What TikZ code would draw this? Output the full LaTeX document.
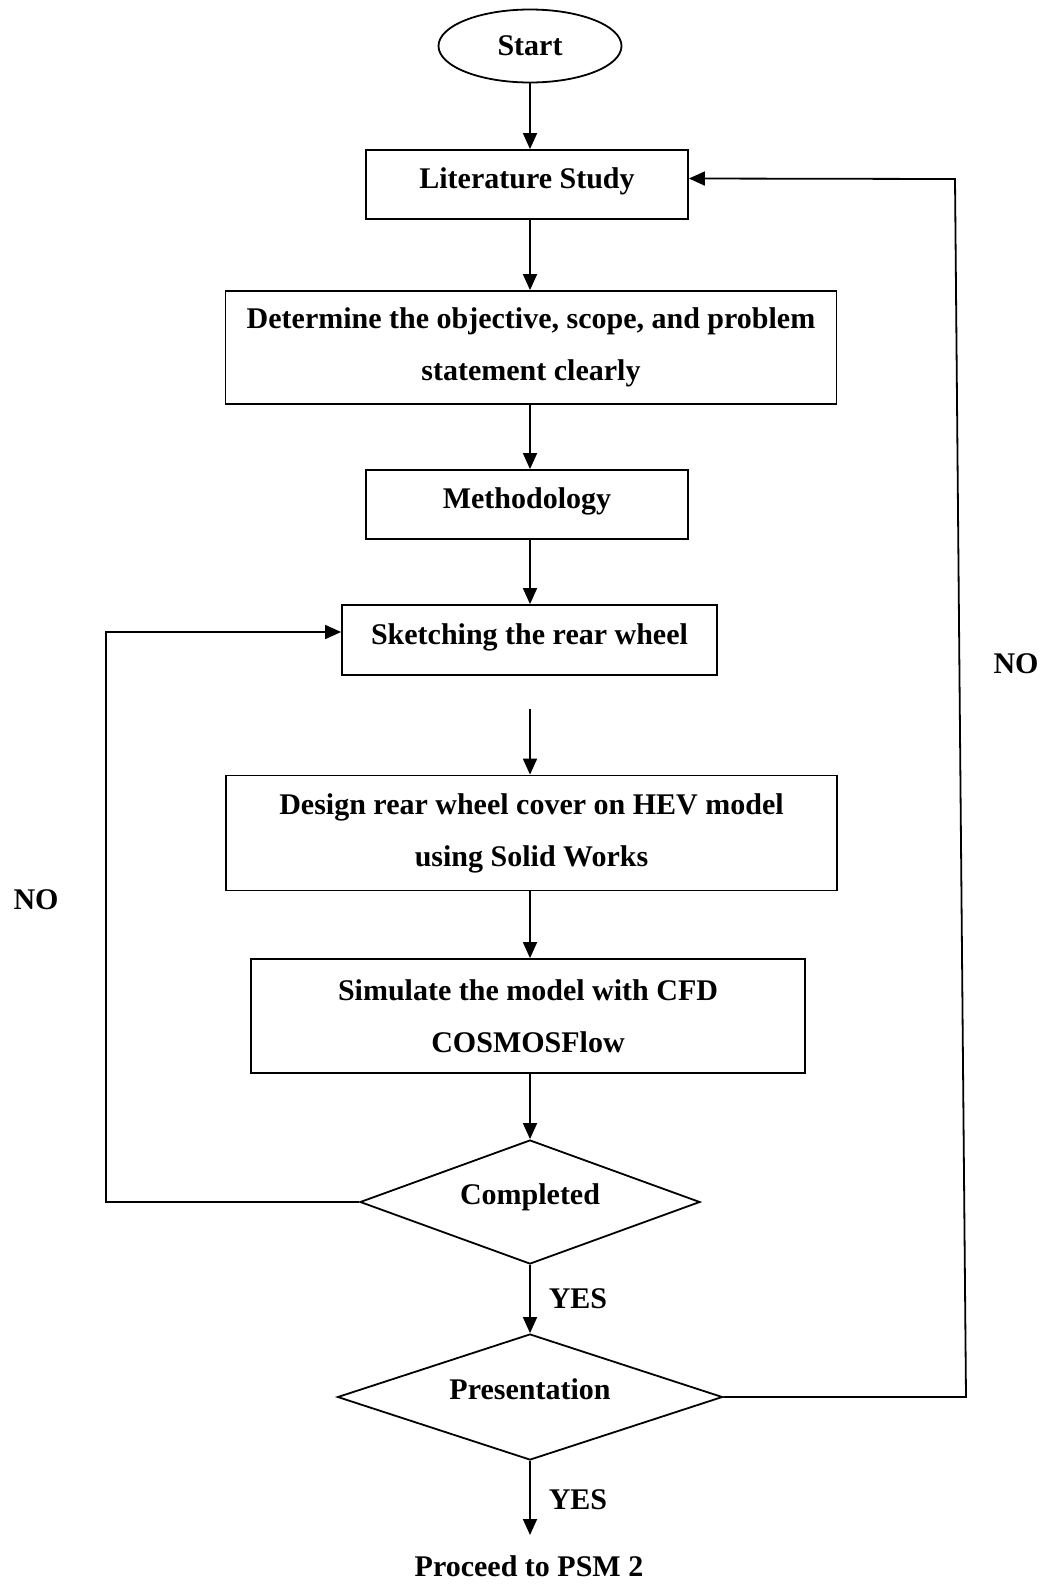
\documentclass[tikz,border=0pt]{standalone}
\usepackage{fontspec}
\setmainfont{Liberation Serif}
\usetikzlibrary{shapes.geometric,arrows.meta}
\begin{document}
\begin{tikzpicture}[x=1pt,y=-1pt,
  every node/.style={font=\fontsize{30}{52}\selectfont\bfseries},
  box/.style={draw, line width=1.8pt, inner sep=0pt, align=center},
  onebox/.style={box, text height=21pt, text depth=13pt},
  dec/.style={draw, diamond, aspect=3, inner sep=0pt, line width=1.8pt, text height=21pt, text depth=16pt},
  arr/.style={line width=1.8pt, -{Triangle[length=16pt,width=14pt]}},
  ln/.style={line width=1.8pt}]
\useasboundingbox (0,0) rectangle (1044,1585);

\node[draw, ellipse, line width=1.8pt, minimum width=183pt, minimum height=73pt, inner sep=0pt] (start) at (530,46) {Start};
\node[onebox, minimum width=322pt, minimum height=69pt] (lit) at (527,184.5) {Literature Study};
\node[box, minimum width=611pt, minimum height=113pt] (det) at (531,347.5) {Determine the objective, scope, and problem\\statement clearly};
\node[onebox, minimum width=322pt, minimum height=69pt] (meth) at (527,504.5) {Methodology};
\node[onebox, minimum width=375pt, minimum height=70pt] (sk) at (529.5,640) {Sketching the rear wheel};
\node[box, minimum width=611pt, minimum height=115pt] (des) at (531.5,833) {Design rear wheel cover on HEV model\\using Solid Works};
\node[box, minimum width=554pt, minimum height=114pt] (sim) at (528,1016) {Simulate the model with CFD\\COSMOSFlow};
\node[dec, minimum width=340pt, minimum height=124pt] (comp) at (530,1202) {Completed};
\node[dec, minimum width=385pt, minimum height=126pt] (pres) at (530,1397) {Presentation};
\node (psm) at (529,1566) {Proceed to PSM 2};

\node (yes1) at (578,1299) {YES};
\node (yes2) at (578,1500) {YES};
\node (no1) at (36,900) {NO};
\node (no2) at (1016,664) {NO};

\coordinate (ax) at (530,0);
\coordinate (gap) at (530,709);
\coordinate (fin) at (530,1535);
\coordinate (lx) at (106,0);
\coordinate (rtop) at (955,179);
\coordinate (rbot) at (966,1397);

\draw[arr] (start.south -| ax) -- (lit.north -| ax);
\draw[arr] (lit.south -| ax) -- (det.north -| ax);
\draw[arr] (det.south -| ax) -- (meth.north -| ax);
\draw[arr] (meth.south -| ax) -- (sk.north -| ax);
\draw[arr] (gap) -- (des.north -| ax);
\draw[arr] (des.south -| ax) -- (sim.north -| ax);
\draw[arr] (sim.south -| ax) -- (comp.north);
\draw[arr] (comp.south) -- (pres.north);
\draw[arr] (pres.south) -- (fin);

\draw[arr] (comp.west) -- (comp.west -| lx) |- ([yshift=8pt]sk.west);
\draw[arr] (pres.east) -- (rbot) -- (rtop) -- ([yshift=6pt]lit.east);
\end{tikzpicture}
\end{document}
